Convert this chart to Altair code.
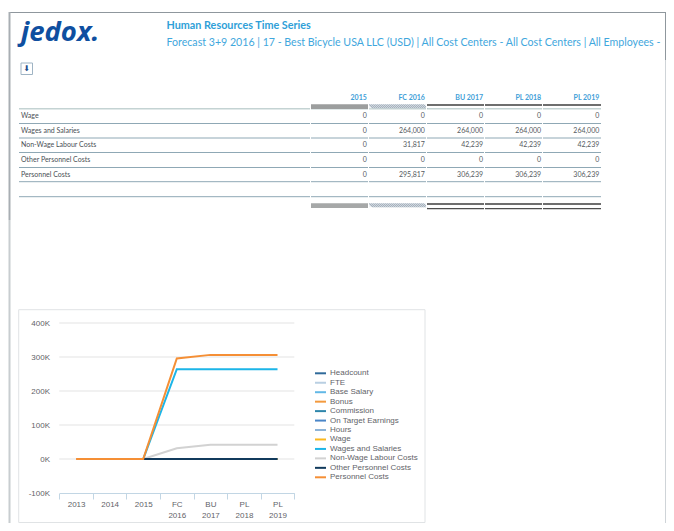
import altair as alt
import pandas as pd

W, H = 658, 515
OX, OY = 8, 8  # page margin

def px(v): return v - OX
def py(v): return v - OY

# ---------- data ----------
periods = ["2013", "2014", "2015", "FC 2016", "BU 2017", "PL 2018", "PL 2019"]
series_names = ["Headcount", "FTE", "Base Salary", "Bonus", "Commission", "On Target Earnings",
                "Hours", "Wage", "Wages and Salaries", "Non-Wage Labour Costs",
                "Other Personnel Costs", "Personnel Costs"]
series_colors = ["#2f6a9a", "#b9cfe2", "#62b8e6", "#f39a3e", "#2e86ab", "#4a86c8",
                 "#8db4d8", "#fbb81f", "#1cb5e8", "#d2d2d2", "#113a5c", "#f58f35"]
zero = [0, 0, 0, 0, 0, 0, 0]
wages_salaries = [0, 0, 0, 264000, 264000, 264000, 264000]
non_wage = [0, 0, 0, 31817, 42239, 42239, 42239]
personnel = [0, 0, 0, 295817, 306239, 306239, 306239]
other_personnel = [None, None, 0, 0, 0, 0, 0]
y_ticks = [-100000, 0, 100000, 200000, 300000, 400000]
grid_ticks = [0, 100000, 200000, 300000, 400000]

table_cols = ["2015", "FC 2016", "BU 2017", "PL 2018", "PL 2019"]
table_rows = ["Wage", "Wages and Salaries", "Non-Wage Labour Costs", "Other Personnel Costs", "Personnel Costs"]
row_wage = ["0", "0", "0", "0", "0"]
row_wages = ["0", "264,000", "264,000", "264,000", "264,000"]
row_nonwage = ["0", "31,817", "42,239", "42,239", "42,239"]
row_other = ["0", "0", "0", "0", "0"]
row_personnel = ["0", "295,817", "306,239", "306,239", "306,239"]

title_text = "Human Resources Time Series"
subtitle_text = "Forecast 3+9 2016 | 17 - Best Bicycle USA LLC (USD) | All Cost Centers - All Cost Centers | All Employees -"

series_map = {n: zero for n in series_names}
series_map["Wages and Salaries"] = wages_salaries
series_map["Non-Wage Labour Costs"] = non_wage
series_map["Other Personnel Costs"] = other_personnel
series_map["Personnel Costs"] = personnel

long_rows = []
for i, n in enumerate(series_names):
    for p, v in zip(periods, series_map[n]):
        if v is not None:
            long_rows.append({"series": n, "period": p, "value": v, "o": i})
df_lines = pd.DataFrame(long_rows)

cell_rows = []
for r, vals in zip(table_rows, [row_wage, row_wages, row_nonwage, row_other, row_personnel]):
    for c, v in zip(table_cols, vals):
        cell_rows.append({"row": r, "col": c, "txt": v})
df_cells = pd.DataFrame(cell_rows)

# ---------- helpers ----------
def rect(x0, x1, y0, y1, fill=None, stroke=None, sw=1):
    kw = {}
    if fill: kw["fill"] = fill
    else: kw["fillOpacity"] = 0
    if stroke:
        kw["stroke"] = stroke
        kw["strokeWidth"] = sw
    return alt.Chart().mark_rect(**kw).encode(
        x=alt.value(px(x0)), x2=alt.value(px(x1)), y=alt.value(py(y0)), y2=alt.value(py(y1)))

def hline(x0, x1, y, color, sw=1):
    return alt.Chart().mark_rule(color=color, strokeWidth=sw).encode(
        x=alt.value(px(x0)), x2=alt.value(px(x1)), y=alt.value(py(y)))

def vline(x, y0, y1, color, sw=1):
    return alt.Chart().mark_rule(color=color, strokeWidth=sw).encode(
        x=alt.value(px(x)), y=alt.value(py(y0)), y2=alt.value(py(y1)))

def label(txt, x, y, **mk):
    return alt.Chart().mark_text(text=txt, **mk).encode(x=alt.value(px(x)), y=alt.value(py(y)))

LATO = "Lato"
layers = []

# outer page frame
layers += [hline(9, 666, 12.5, "#8f979d", 1),
           vline(665.5, 12, 60, "#8f979d", 1),
           vline(665.5, 60, 523, "#cfd4d8", 1),
           vline(9.5, 12, 220, "#a8aeb3", 2),
           vline(9.5, 220, 523, "#c8cdd0", 2)]

# logo
layers.append(label("jedox.", 21, 32.5, font="Open Sans", fontSize=27.5, fontWeight="bold", fontStyle="italic",
                    color="#0f4fa0", align="left", baseline="middle"))

# title lines
layers.append(label(title_text, 166.5, 26, font=LATO, fontSize=10.8, fontWeight="bold",
                    color="#2f9fd8", align="left", baseline="middle"))
layers.append(label(subtitle_text, 166.5, 42.5, font=LATO, fontSize=10.62, color="#3fa7dd",
                    align="left", baseline="middle"))

# drill button
layers.append(rect(21, 32.5, 63, 74.5, fill="#ffffff", stroke="#9fb4c4", sw=1))
layers.append(label("⬇", 26.8, 69, font="DejaVu Sans", fontSize=8, color="#1f4e8c", align="center", baseline="middle"))

# table rules
layers.append(hline(19, 601, 108.7, "#c4d3d3", 1.5))
for yy in [123.5, 138, 152.5, 167.5, 181.7, 196.7]:
    layers.append(hline(19, 601, yy, "#8fa8b5", 1))

# column header and footer bands
layers.append(rect(311, 368, 104.3, 109, fill="#9c9e9e"))
layers.append(rect(311, 368, 203.3, 208, fill="#a6a8a8"))
for yy in [104.3, 203.3]:
    layers.append(rect(369, 426, yy, yy + 4, fill="#eef1f4"))
hatch_steps = list(range(0, 28))
for y0 in [104.3, 203.3]:
    df_h = pd.DataFrame({"s": hatch_steps})
    layers.append(alt.Chart(df_h).mark_rule(color="#6f8396", strokeWidth=0.8).transform_calculate(
        s2="datum.s+2").encode(
        x=alt.X("s:Q", scale=alt.Scale(domain=[0, 28], range=[px(369), px(425)]), axis=None),
        x2="s2:Q",
        y=alt.value(py(y0)), y2=alt.value(py(y0 + 4))))
for yy in [105, 204]:
    layers.append(hline(427, 601, yy, "#6e6e6e", 2))
layers.append(hline(427, 601, 208.6, "#4e4e4e", 1.2))

# white gaps between columns
for xx in [310.5, 368.5, 426.5, 484.5, 542.5]:
    layers.append(vline(xx, 103, 211, "#ffffff", 1))

# header labels
df_head = pd.DataFrame({"col": table_cols})
x_cols = alt.Scale(type="point", domain=table_cols, range=[px(366.8), px(599.3)], padding=0)
layers.append(alt.Chart(df_head).mark_text(font=LATO, fontSize=7, fontWeight="bold", color="#3fa0d8",
                                           align="right", baseline="middle").encode(
    x=alt.X("col:N", scale=x_cols, axis=None, sort=None),
    y=alt.value(py(97.5)), text="col:N"))

# row labels
df_rows = pd.DataFrame({"row": table_rows})
y_rows = alt.Scale(type="point", domain=table_rows, range=[py(116), py(174.5)], padding=0)
layers.append(alt.Chart(df_rows).mark_text(font=LATO, fontSize=7, color="#4a4f55", align="left",
                                           baseline="middle").encode(
    x=alt.value(px(21)),
    y=alt.Y("row:N", scale=y_rows, axis=None, sort=None), text="row:N"))

# cells
layers.append(alt.Chart(df_cells).mark_text(font=LATO, fontSize=7, color="#555a60", align="right",
                                            baseline="middle").encode(
    x=alt.X("col:N", scale=x_cols, axis=None, sort=None),
    y=alt.Y("row:N", scale=y_rows, axis=None, sort=None), text="txt:N"))

# line chart frame
layers.append(rect(18.7, 425, 309.7, 522.5, fill="#ffffff", stroke="#e0e3e5", sw=1))

# line chart scales
y_scale = alt.Scale(domain=[-100000, 400000], range=[py(493), py(323)], nice=False, zero=False)
x_scale = alt.Scale(type="band", domain=periods, range=[px(59.3), px(294.3)], paddingInner=0, paddingOuter=0)
color_scale = alt.Scale(domain=series_names, range=series_colors)

# gridlines
df_grid = pd.DataFrame({"v": grid_ticks})
layers.append(alt.Chart(df_grid).mark_rule(color="#e3e3e3", strokeWidth=1).encode(
    y=alt.Y("v:Q", scale=y_scale, axis=None),
    x=alt.value(px(59.3)), x2=alt.value(px(294.3))))

# lines with axes
lines = alt.Chart(df_lines).mark_line(strokeWidth=2, clip=False).encode(
    x=alt.X("period:N", scale=x_scale, sort=None, title=None,
            axis=alt.Axis(orient="bottom", offset=py(493) - H, tickBand="extent", labelAngle=0, zindex=1,
                          labelExpr="split(datum.label,' ')", labelFont="Liberation Sans", labelFontSize=8,
                          labelColor="#5f6368", domainColor="#c2d6e4", tickColor="#c2d6e4", tickSize=6,
                          labelPadding=1, grid=False, labelLineHeight=11)),
    y=alt.Y("value:Q", scale=y_scale, title=None,
            axis=alt.Axis(orient="left", offset=-px(49.5), values=y_ticks, zindex=1,
                          labelExpr="datum.value/1000+'K'", labelFont="Liberation Sans", labelFontSize=8,
                          labelColor="#5f6368", domain=False, ticks=False, grid=False, labelPadding=0)),
    color=alt.Color("series:N", scale=color_scale, legend=None),
    order="o:Q",
    detail="series:N")
layers.append(lines)

# legend keys and labels, one row per series
df_leg = pd.DataFrame({"series": series_names})
y_leg = alt.Scale(type="point", domain=series_names, range=[py(373.3), py(477.3)], padding=0)
layers.append(alt.Chart(df_leg).mark_rule(strokeWidth=2).encode(
    x=alt.value(px(315)), x2=alt.value(px(326)),
    y=alt.Y("series:N", scale=y_leg, axis=None, sort=None),
    color=alt.Color("series:N", scale=color_scale, legend=None)))
layers.append(alt.Chart(df_leg).mark_text(font="Liberation Sans", fontSize=8, color="#5f6368", align="left",
                                          baseline="middle").encode(
    x=alt.value(px(330)),
    y=alt.Y("series:N", scale=y_leg, axis=None, sort=None), text="series:N"))

chart = alt.layer(*layers).resolve_scale(x="independent", y="independent", color="independent").properties(
    width=W, height=H, padding=0, autosize=alt.AutoSizeParams(type="none")
).configure_view(stroke=None)

chart.save("out.html", embed_options={"renderer": "svg", "actions": False})
